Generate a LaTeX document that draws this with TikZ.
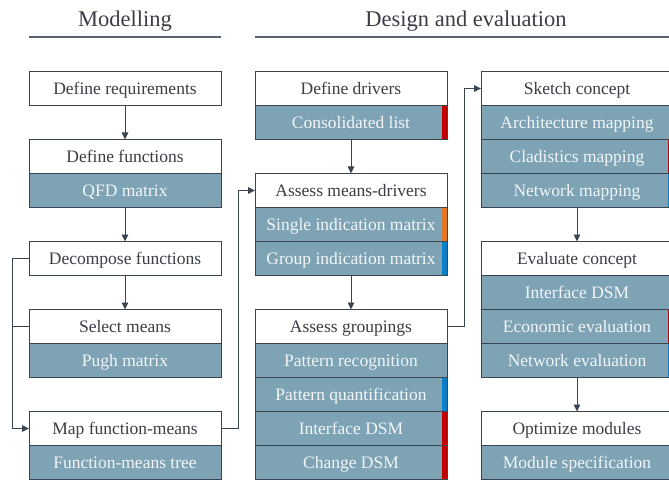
\documentclass[tikz,border=0pt]{standalone}
\usepackage{fontspec}
\setmainfont{Liberation Serif}
\usetikzlibrary{arrows.meta}
\definecolor{bordercol}{HTML}{3A4550}
\definecolor{textcol}{HTML}{3A3F46}
\definecolor{subfill}{HTML}{7DA3B4}
\definecolor{subtext}{HTML}{F2F5F7}
\definecolor{barred}{HTML}{C00000}
\definecolor{barorange}{HTML}{E0782A}
\definecolor{barblue}{HTML}{0A80C8}
\definecolor{rulecol}{HTML}{59636D}
\tikzset{
  headbox/.style={draw=bordercol, line width=0.9pt, fill=white, minimum width=192pt, minimum height=34pt,
    inner sep=0pt, outer sep=0pt, anchor=north, text=textcol, text height=12pt, text depth=0pt,
    font=\fontsize{17.5}{21}\selectfont},
  subbox/.style={headbox, fill=subfill, text=subtext},
  withbar/.style={path picture={\fill[#1] ([xshift=-5.5pt]path picture bounding box.north east) rectangle (path picture bounding box.south east);}},
  conn/.style={draw=bordercol, line width=0.9pt},
  arr/.style={conn, -{Triangle[length=7pt,width=6.5pt]}},
  headtext/.style={text=textcol, font=\fontsize{22.5}{26}\selectfont, inner sep=0pt, text height=15pt, text depth=0pt},
  headrule/.style={draw=rulecol, line width=2pt}
}
\begin{document}
\begin{tikzpicture}[x=1pt,y=-1pt]
\useasboundingbox (0,0) rectangle (669,481);
% headers
\node[headtext] (hmod) at (125,19.5) {Modelling};
\node[headtext] (hdes) at (466,19.5) {Design and evaluation};
\coordinate (hl1a) at (29,37); \coordinate (hl1b) at (221,37);
\coordinate (hl2a) at (255,37); \coordinate (hl2b) at (669,37);
\draw[headrule] (hl1a) -- (hl1b);
\draw[headrule] (hl2a) -- (hl2b);
% left column
\node[headbox] (req) at (125,71.5) {Define requirements};
\node[headbox] (fun) at (125,139.5) {Define functions};
\node[subbox] (qfd) at (fun.south) {QFD matrix};
\node[headbox] (dec) at (125,241.5) {Decompose functions};
\node[headbox] (sel) at (125,309.5) {Select means};
\node[subbox] (pugh) at (sel.south) {Pugh matrix};
\node[headbox] (map) at (125,411.5) {Map function-means};
\node[subbox] (fmt) at (map.south) {Function-means tree};
% middle column
\node[headbox] (drv) at (351,71.5) {Define drivers};
\node[subbox, withbar=barred] (cons) at (drv.south) {Consolidated list};
\node[headbox] (amd) at (351,173.5) {Assess means-drivers};
\node[subbox, withbar=barorange] (sim) at (amd.south) {Single indication matrix};
\node[subbox, withbar=barblue] (gim) at (sim.south) {Group indication matrix};
\node[headbox] (agr) at (351,309.5) {Assess groupings};
\node[subbox] (prec) at (agr.south) {Pattern recognition};
\node[subbox, withbar=barblue] (pq) at (prec.south) {Pattern quantification};
\node[subbox, withbar=barred] (idsm) at (pq.south) {Interface DSM};
\node[subbox, withbar=barred] (cdsm) at (idsm.south) {Change DSM};
% right column
\node[headbox] (sk) at (577,71.5) {Sketch concept};
\node[subbox] (arch) at (sk.south) {Architecture mapping};
\node[subbox, withbar=barred] (clad) at (arch.south) {Cladistics mapping};
\node[subbox, withbar=barblue] (netm) at (clad.south) {Network mapping};
\node[headbox] (evc) at (577,241.5) {Evaluate concept};
\node[subbox] (idsm2) at (evc.south) {Interface DSM};
\node[subbox, withbar=barred] (eco) at (idsm2.south) {Economic evaluation};
\node[subbox, withbar=barblue] (nete) at (eco.south) {Network evaluation};
\node[headbox] (opt) at (577,411.5) {Optimize modules};
\node[subbox] (mspec) at (opt.south) {Module specification};
% connectors
\draw[arr] (req) -- (fun);
\draw[arr] (qfd) -- (dec);
\draw[arr] (dec) -- (sel);
\coordinate (lx) at (12.5,0);
\coordinate (mx) at (238,0);
\coordinate (rx) at (464,0);
\draw[arr] (dec.west) -- (dec.west -| lx) |- (map.west);
\draw[conn] (sel.west) -- (sel.west -| lx);
\draw[arr] (map.east) -- (map.east -| mx) |- (amd.west);
\draw[arr] (cons) -- (amd);
\draw[arr] (gim) -- (agr);
\draw[arr] (agr.east) -- (agr.east -| rx) |- (sk.west);
\draw[arr] (netm.south -| evc.north) -- (evc.north);
\draw[arr] (nete.south -| opt.north) -- (opt.north);
\end{tikzpicture}
\end{document}
